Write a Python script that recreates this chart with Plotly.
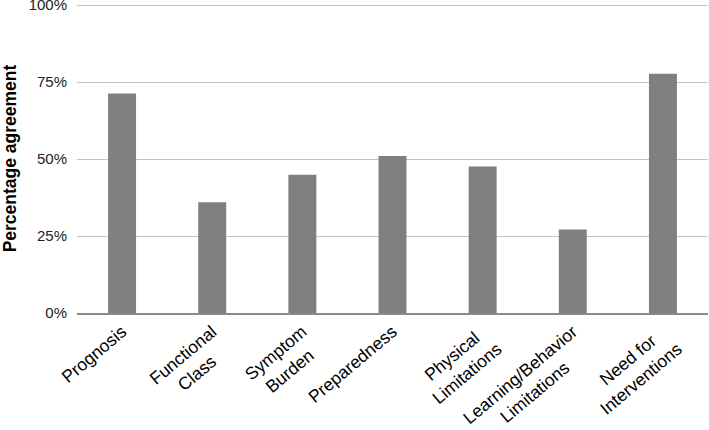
import plotly.graph_objects as go

NB = "\u00a0"
categories = ["Prognosis",
              "Functional<br>Class" + NB * 4,
              "Symptom<br>Burden" + NB * 2,
              "Preparedness",
              "Physical" + NB * 2 + "<br>Limitations",
              "Learning/Behavior<br>Limitations" + NB * 6,
              "Need for" + NB * 3 + "<br>Interventions"]
values = [71.3, 36.0, 44.9, 51.0, 47.6, 27.1, 77.7]
y_ticks = [0, 25, 50, 75, 100]
y_tick_labels = ["0%", "25%", "50%", "75%", "100%"]

fig = go.Figure(go.Bar(x=categories, y=values, marker=dict(color="#7f7f7f", line=dict(width=0))))

fig.update_layout(
    width=709, height=430,
    margin=dict(l=77, r=1, t=4, b=117, autoexpand=False),
    plot_bgcolor="white", paper_bgcolor="white",
    bargap=0.69,
    showlegend=False,
    font=dict(family="Liberation Sans, Arial, sans-serif", color="#000000", size=15),
)
fig.update_yaxes(
    range=[0, 100.4], tickvals=y_ticks, ticktext=y_tick_labels,
    showgrid=True, gridcolor="#c4c4c4", gridwidth=1.2,
    zeroline=False, showline=False, ticks="", automargin=False,
    ticklabelstandoff=9, ticklabeloverflow="allow",
    tickfont=dict(size=15, color="#222222"),
    title=dict(text="<b>Percentage agreement</b>", font=dict(size=17.5), standoff=16),
)
fig.update_xaxes(
    showline=True, linecolor="#8a8a8a", linewidth=1.5,
    tickangle=-40, ticks="", automargin=False, ticklabeloverflow="allow",
    ticklabelstandoff=0,
    tickfont=dict(size=17.5),
)
fig.write_html("out.html", config={"displayModeBar": False},
               post_script="document.body.style.margin='0px';")
